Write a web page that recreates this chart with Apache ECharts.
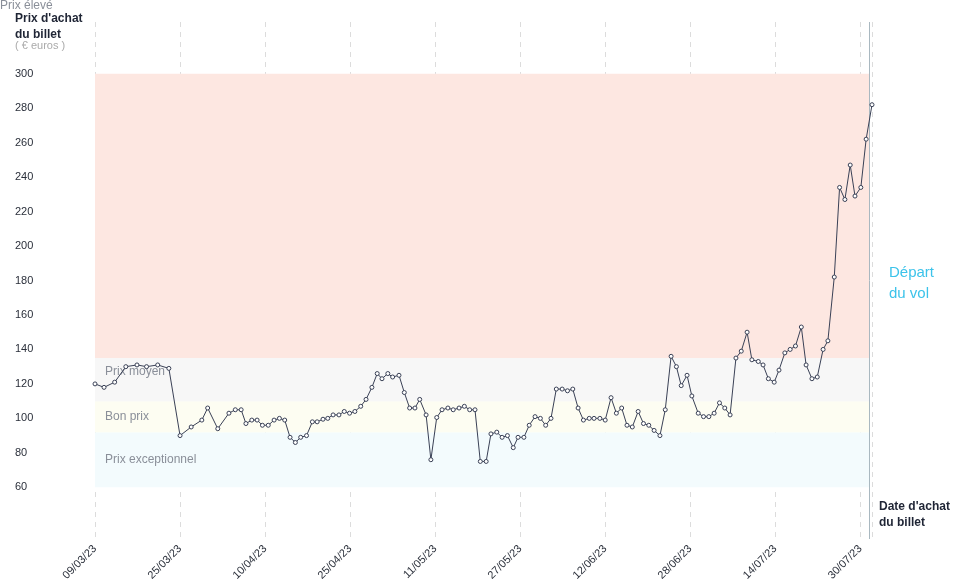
<!DOCTYPE html>
<html><head><meta charset="utf-8">
<script src="https://cdn.jsdelivr.net/npm/echarts@6/dist/echarts.min.js"></script>
<style>html,body{margin:0;padding:0;background:#fff}#c{width:958px;height:585px}</style>
</head><body><div id="c"></div>
<script>
// x = days since 09/03/23 (estimated), y = price in euros
const days = [0,1.7,3.7,5.8,7.9,9.7,11.8,13.9,16,18.1,20.1,21.2,23.1,25.2,26.4,27.5,28.4,29.5,30.5,31.5,32.6,33.7,34.7,35.7,36.7,37.7,38.7,39.8,40.9,41.8,42.9,43.8,44.8,45.9,46.9,47.9,48.9,50,51,52.1,53.1,54,55.1,56,57.2,58.2,59.2,60.2,61.1,62.3,63.2,64.3,65.3,66.4,67.4,68.5,69.5,70.5,71.5,72.5,73.6,74.5,75.6,76.6,77.6,78.7,79.6,80.7,81.7,82.8,83.8,84.8,85.8,86.8,87.9,88.9,89.9,90.9,91.9,93,93.9,95,96,97.1,98.1,99.1,100.1,101.1,102.2,103.2,104.2,105.2,106.3,107.3,108.4,109.4,110.3,111.4,112.3,113.5,114.5,115.5,116.5,117.5,118.5,119.5,120.6,121.6,122.7,123.6,124.8,125.7,126.7,127.8,128.7,129.8,130.8,131.8,132.9,133.8,134.9,135.9,137,137.9,139.1,140.1,141.1,142.1,143,144.1,145.1,146.2];
const prices = [120,118,121,130,131,130,131,129,90,95,99,106,94,103,105,105,97,99,99,96,96,99,100,99,89,86,89,90,98,98,99.5,100,102,102,104,103,104,107,111,118,126,123,126,124,125,115,106,106,111,102,76,100.5,105,106,105,106,107,105,105,75,75,91,92,89,90,83,89,89,96,101,100,96,100,117,117,116,117,106,99,100,100,100,99,112,103,106,96,95,104,97,96,93,90,105,136,130,119,125,113,103,101,101,103,109,106,102,135,139,150,134,133,131,123,121,128,138,140,142,153,131,123,124,140,145,182,234,227,247,229,234,262,282];
const xTickLabels = ['09/03/23','25/03/23','10/04/23','25/04/23','11/05/23','27/05/23','12/06/23','28/06/23','14/07/23','30/07/23'];
const yTickValues = [60,80,100,120,140,160,180,200,220,240,260,280,300];
const bandNames = ['Prix exceptionnel','Bon prix','Prix moyen','Prix élevé'];
const bandLimits = [60,92,110,135,300];
const bandColors = ['#f3fbfd','#fdfdf2','#f7f7f7','#fde7e1'];
const departDay = 145.7;

const chart = echarts.init(document.getElementById('c'));
const points = days.map((d,i)=>[d,prices[i]]);
const areas = bandNames.map((n,i)=>[
  {yAxis:bandLimits[i], xAxis:0, itemStyle:{color:bandColors[i]}, name:n,
   label:{show:true, position: i===3?'insideTopLeft':'insideLeft', formatter:n, color:'#8a8f99', fontSize:12, fontFamily:'Arial', offset: i===3?[0,0]:[0,[0,0,-8,-10][i]] , distance: i===3?[10,6]:10}},
  {yAxis:bandLimits[i+1], xAxis:departDay}
]);
chart.setOption({
  animation:false,
  grid:{left:95,right:86,top:22,bottom:46},
  xAxis:{type:'value',min:0,max:146.2,interval:16,
    axisLine:{show:false},axisTick:{show:false},
    axisLabel:{rotate:45,color:'#2a2f3a',fontSize:11,fontFamily:'Arial',showMaxLabel:false,
      formatter:v=>{const i=Math.round(v/16);return (Math.abs(v-i*16)<0.01&&i<xTickLabels.length)?xTickLabels[i]:'';}},
    splitLine:{show:true,lineStyle:{type:[5,5],color:'#dcdcdc'}}},
  yAxis:{type:'value',min:30,max:330,interval:10,
    axisLine:{show:false},axisTick:{show:false},splitLine:{show:false},
    axisLabel:{align:'left',margin:80,color:'#2a2f3a',fontSize:11,fontFamily:'Arial',
      formatter:v=>yTickValues.includes(v)?String(v):''}},
  graphic:[
    {type:'text',left:15,top:11,style:{text:"Prix d'achat\ndu billet",font:'bold 12px Arial',fill:'#1f2535',lineHeight:16}},
    {type:'text',left:15,top:40,style:{text:'( € euros )',font:'11px Arial',fill:'#aaaaaa'}},
    {type:'text',left:879,top:499,style:{text:"Date d'achat\ndu billet",font:'bold 12px Arial',fill:'#1f2535',lineHeight:16}},
    {type:'text',left:889,top:262,style:{text:'Départ\ndu vol',font:'15px Arial',fill:'#3cc3ea',lineHeight:21}}
  ],
  series:[{type:'line',data:points,
    lineStyle:{color:'#3a4156',width:1},
    symbol:'circle',symbolSize:4,itemStyle:{color:'#fff',borderColor:'#3a4156',borderWidth:1},
    markArea:{silent:true,data:areas},
    markLine:{silent:true,symbol:'none',label:{show:false},
      data:[...yTickValues.map(v=>[{xAxis:-15.3,yAxis:v,lineStyle:{type:[5,5],color:'#dcdcdc',width:1}},{xAxis:departDay,yAxis:v}]),
        [{xAxis:departDay,yAxis:30,lineStyle:{type:'solid',color:'#a9b8c0',width:1}},{xAxis:departDay,yAxis:330}]]},
    z:5}]
});
</script></body></html>
